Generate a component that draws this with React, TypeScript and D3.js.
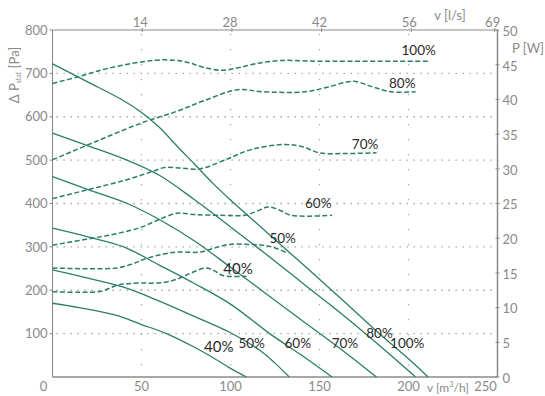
import React from 'react';
import * as d3 from 'd3';

const W = 545;
const H = 396;

// axis ticks
const flowTicks = [0, 50, 100, 150, 200, 250];
const pressureTicks = [100, 200, 300, 400, 500, 600, 700, 800];
const gridPressure = [100, 200, 300, 400, 500, 600, 700];
const gridFlow = [50, 100, 150, 200];
const powerTicks = [0, 5, 10, 15, 20, 25, 30, 35, 40, 45, 50];
const lsTicks = [14, 28, 42, 56, 69];

// pressure curves [m3/h, Pa]
const p40: [number, number][] = [[0,170],[15,160],[35,143],[50,121],[64,100],[80,68],[90,45],[100,20],[109,0]];
const p50: [number, number][] = [[0,247],[20,228],[40,207],[60,175],[80,139],[100,102],[117,60],[125,32],[133,0]];
const p60: [number, number][] = [[0,343],[20,323],[40,300],[60,258],[80,215],[100,168],[122,100],[140,50],[157,0]];
const p70: [number, number][] = [[0,462],[20,432],[42,400],[60,363],[80,313],[100,253],[120,192],[140,131],[165,55],[182,0]];
const p80: [number, number][] = [[0,562],[20,533],[40,503],[60,465],[80,408],[100,346],[120,283],[140,218],[162,147],[185,68],[204,0]];
const p100: [number, number][] = [[0,722],[20,680],[40,637],[50,610],[60,576],[70,532],[80,490],[90,447],[100,408],[120,335],[140,262],[162,181],[185,95],[200,42],[211,0]];

// power curves [m3/h, W]
const w40: [number, number][] = [[0,12.3],[15,12.2],[28,12.4],[36,13.2],[45,13.5],[62,13.6],[70,14.1],[78,15],[86,15.7],[91,15.3],[96,14.6],[109,14.5]];
const w50: [number, number][] = [[0,15.7],[20,15.6],[36,15.7],[45,16.3],[53,17.1],[62,17.7],[70,18],[83,18],[90,18.5],[99,19.1],[110,19.1],[118,19],[125,18.6],[132.5,17.8]];
const w60: [number, number][] = [[0,19],[20,19.9],[35,20.6],[50,21.6],[60,22.7],[70,23.6],[80,23.4],[95,23.3],[108,23.3],[115,23.9],[121,24.5],[128,24],[134,23.3],[157,23.3]];
const w70: [number, number][] = [[0,25.7],[20,27],[40,28.3],[56,29.6],[63,30.2],[72,30.1],[83,30],[98,31.4],[112,32.8],[130,33.5],[140,33.2],[150,32.3],[165,32.2],[182,32.3]];
const w80: [number, number][] = [[0,31.3],[25,34],[50,36.6],[70,38.3],[85,39.8],[104,41.4],[118,41.1],[142,41.1],[155,41.8],[169,42.6],[180,41.8],[190,41.1],[204,41.1]];
const w100: [number, number][] = [[0,42.3],[15,43.3],[30,44.4],[50,45.4],[63,45.7],[75,45.4],[85,44.6],[95,44.2],[105,44.6],[115,45.2],[128,45.6],[150,45.5],[211,45.5]];

const pressureCurves = [p40, p50, p60, p70, p80, p100];
const powerCurves = [w40, w50, w60, w70, w80, w100];

const speedLabels = ['40%', '50%', '60%', '70%', '80%', '100%'];
// label anchors: [m3/h, Pa] and [m3/h, W]
const pressureLabelPos: [number, number][] = [[93.4,56.5],[111.9,66.2],[137.8,66.2],[164.3,66.2],[183.7,89.2],[199.3,66.2]];
const powerLabelPos: [number, number][] = [[104.2,14.9],[129.3,19.3],[149.3,24.3],[175.6,32.8],[196.5,41.7],[205.7,46.4]];

const LPS_TO_M3H = 3.6;

const COLOR = '#2b7e69';
const GREY = '#8a8a8a';
const FONT = 'Lato, "Open Sans", sans-serif';

export default function App() {
  const left = 52.5, right = 497.5, top = 30, bottom = 377;
  const x = d3.scaleLinear().domain([0, 250]).range([left, right]);
  const yP = d3.scaleLinear().domain([0, 800]).range([bottom, top]);
  const yW = d3.scaleLinear().domain([0, 50]).range([bottom, top]);

  const lineP = d3.line<[number, number]>().x(d => x(d[0])).y(d => yP(d[1])).curve(d3.curveCatmullRom.alpha(0.5));
  const lineW = d3.line<[number, number]>().x(d => x(d[0])).y(d => yW(d[1])).curve(d3.curveCatmullRom.alpha(0.5));

  return (
    <svg width={W} height={H} style={{ position: 'absolute', left: 0, top: 0, background: '#fff' }} fontFamily={FONT}>
      {/* grid */}
      {gridPressure.map(v => (
        <line key={'gh' + v} x1={left + 4} x2={right - 2} y1={yP(v)} y2={yP(v)} stroke="#9a9a9a" strokeWidth={1.3} strokeDasharray="1.3,5.7" />
      ))}
      {gridFlow.map(v => (
        <line key={'gv' + v} x1={x(v)} x2={x(v)} y1={top + 4} y2={bottom - 2} stroke="#a8a8a8" strokeWidth={1.3} strokeDasharray="1.3,13.7" />
      ))}

      {/* axes */}
      <line x1={left} x2={right} y1={top} y2={top} stroke={GREY} strokeWidth={1.2} />
      <line x1={left} x2={right} y1={bottom} y2={bottom} stroke={GREY} strokeWidth={1.6} />
      <line x1={left} x2={left} y1={top} y2={bottom} stroke={GREY} strokeWidth={1.1} />
      <line x1={right} x2={right} y1={top} y2={bottom} stroke={GREY} strokeWidth={1.5} />

      {/* left ticks */}
      {pressureTicks.map(v => (
        <g key={'lt' + v}>
          <line x1={left - 3} x2={left} y1={yP(v)} y2={yP(v)} stroke={GREY} strokeWidth={1} />
          <text x={left - 5} y={yP(v)} dy="0.36em" textAnchor="end" fontSize={13} fill={GREY}>{v}</text>
        </g>
      ))}
      {/* right ticks */}
      {powerTicks.map(v => (
        <g key={'rt' + v}>
          <line x1={right - 2} x2={right + 2} y1={yW(v)} y2={yW(v)} stroke={GREY} strokeWidth={1} />
          <text x={right + 5} y={yW(v)} dy="0.45em" textAnchor="start" fontSize={13} fill={GREY}>{v}</text>
        </g>
      ))}
      {/* bottom ticks */}
      {flowTicks.map(v => (
        <text key={'bt' + v} x={x(v) + (v === 0 ? -9 : v === 250 ? -12 : 0)} y={391} textAnchor="middle" fontSize={13} fill={GREY}>{v}</text>
      ))}
      {/* top ticks */}
      {lsTicks.map(v => (
        <g key={'tt' + v}>
          <line x1={x(v * LPS_TO_M3H)} x2={x(v * LPS_TO_M3H)} y1={top - 2} y2={top + 2} stroke={GREY} strokeWidth={1} />
          <text x={x(v * LPS_TO_M3H) - 2} y={26.5} textAnchor="middle" fontSize={13} fill={GREY}>{v}</text>
        </g>
      ))}

      {/* axis titles */}
      <text x={450} y={20} textAnchor="middle" fontSize={13} fill={GREY}>v [l/s]</text>
      <text x={528} y={53} textAnchor="middle" fontSize={13} fill={GREY}>P [W]</text>
      <text x={448} y={392} textAnchor="middle" fontSize={12} fill={GREY}>
        v [m<tspan fontSize={7.5} dy={-5}>3</tspan><tspan dy={5}>/h]</tspan>
      </text>
      <text transform="translate(19,75) rotate(-90)" textAnchor="middle" fontSize={13} fill={GREY}>
        Δ P<tspan fontSize={7} dy={2}>stat</tspan><tspan dy={-2}> [Pa]</tspan>
      </text>

      {/* curves */}
      {powerCurves.map((c, i) => (
        <path key={'w' + i} d={lineW(c) || ''} fill="none" stroke={COLOR} strokeWidth={1.5} strokeDasharray="5,2.5" />
      ))}
      {pressureCurves.map((c, i) => (
        <path key={'p' + i} d={lineP(c) || ''} fill="none" stroke={COLOR} strokeWidth={1.3} />
      ))}

      {/* curve labels */}
      {pressureLabelPos.map((p, i) => (
        <text key={'pl' + i} x={x(p[0])} y={yP(p[1])} textAnchor="middle" fontSize={i === 0 ? 15 : 13.5} fill="#2a2a2a">{speedLabels[i]}</text>
      ))}
      {powerLabelPos.map((p, i) => (
        <text key={'wl' + i} x={x(p[0])} y={yW(p[1])} textAnchor="middle" fontSize={i === 0 ? 15 : 13.5} fill="#2a2a2a">{speedLabels[i]}</text>
      ))}
    </svg>
  );
}
